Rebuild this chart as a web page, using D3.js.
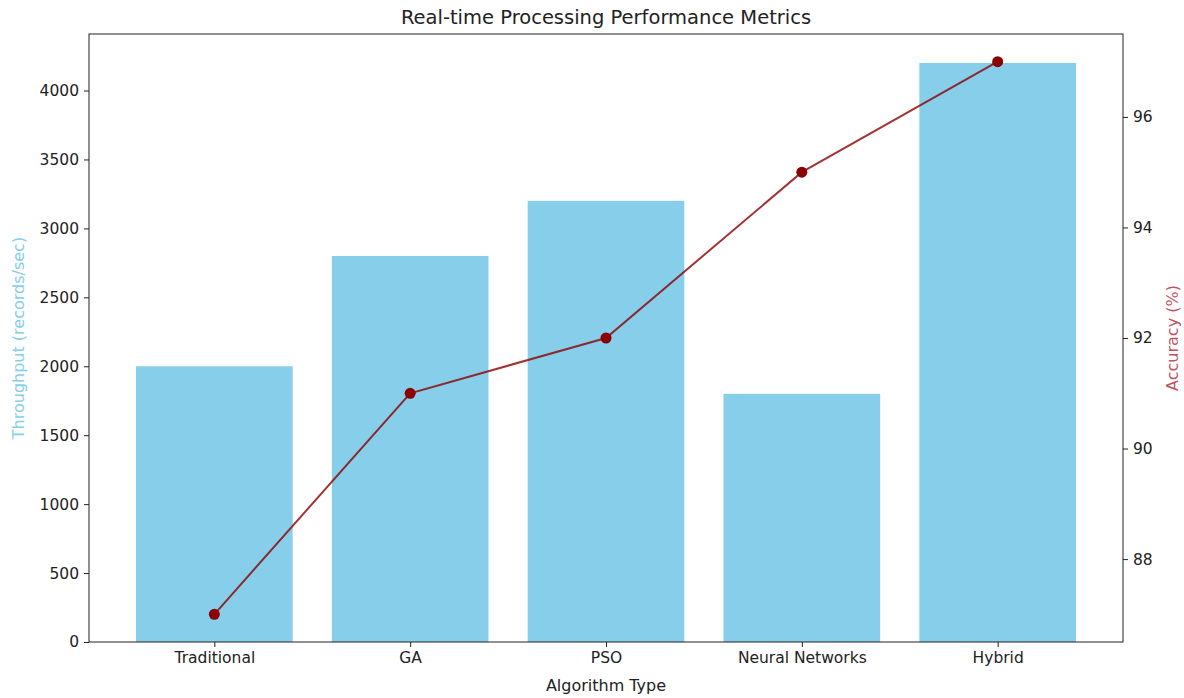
<!DOCTYPE html>
<html><head><meta charset="utf-8">
<script src="https://cdn.jsdelivr.net/npm/d3@7"></script>
<style>body{margin:0;background:#fff}text{font-family:"DejaVu Sans",sans-serif}</style>
</head><body><svg id="c" width="1184" height="698"></svg>
<script>
const categories = ["Traditional","GA","PSO","Neural Networks","Hybrid"];
const throughput = [2000,2800,3200,1800,4200];
const accuracy = [87,91,92,95,97];
const leftTicks = [0,500,1000,1500,2000,2500,3000,3500,4000];
const rightTicks = [88,90,92,94,96];

const svg = d3.select("#c");
const L=89, R=1123, T=34, B=642;
const x = d3.scaleLinear().domain([-0.64,4.64]).range([L,R]);
const yL = d3.scaleLinear().domain([0,4410]).range([B,T]);
const yR = d3.scaleLinear().domain([86.5,97.5]).range([B,T]);

svg.selectAll("rect.bar").data(throughput).join("rect").attr("class","bar")
  .attr("x",(d,i)=>x(i-0.4)).attr("width",x(0.8)-x(0))
  .attr("y",d=>yL(d)).attr("height",d=>B-yL(d)).attr("fill","#87CEEB");

const line = d3.line().x((d,i)=>x(i)).y(d=>yR(d));
svg.append("path").datum(accuracy).attr("d",line).attr("fill","none")
  .attr("stroke","#8B0000").attr("stroke-opacity",0.8).attr("stroke-width",2);
svg.selectAll("circle").data(accuracy).join("circle")
  .attr("cx",(d,i)=>x(i)).attr("cy",d=>yR(d)).attr("r",5.5).attr("fill","#8B0000");

const fs = 15.5;
const ax = svg.append("g").attr("transform",`translate(0,${B})`)
  .call(d3.axisBottom(x).tickValues(d3.range(categories.length)).tickFormat(i=>categories[i]).tickSizeOuter(0).tickSize(5).tickPadding(5));
const al = svg.append("g").attr("transform",`translate(${L},0)`)
  .call(d3.axisLeft(yL).tickValues(leftTicks).tickFormat(d3.format("d")).tickSizeOuter(0).tickSize(5).tickPadding(5));
const ar = svg.append("g").attr("transform",`translate(${R},0)`)
  .call(d3.axisRight(yR).tickValues(rightTicks).tickFormat(d3.format("d")).tickSizeOuter(0).tickSize(5).tickPadding(5));
[ax,al,ar].forEach(g=>{
  g.select(".domain").remove();
  g.selectAll("text").attr("font-size",fs).attr("fill","#222").attr("font-family","DejaVu Sans");
  g.selectAll("line").attr("stroke","#222");
});
svg.append("rect").attr("x",L).attr("y",T).attr("width",R-L).attr("height",B-T)
  .attr("fill","none").attr("stroke","#222").attr("stroke-width",1);

svg.append("text").attr("x",(L+R)/2).attr("y",24).attr("text-anchor","middle")
  .attr("font-size",19.5).attr("fill","#222").text("Real-time Processing Performance Metrics");
svg.append("text").attr("x",(L+R)/2).attr("y",691).attr("text-anchor","middle")
  .attr("font-size",16).attr("fill","#222").text("Algorithm Type");
svg.append("text").attr("transform",`translate(24,${(T+B)/2}) rotate(-90)`).attr("text-anchor","middle")
  .attr("font-size",16).attr("fill","#87CEEB").text("Throughput (records/sec)");
svg.append("text").attr("transform",`translate(1178,${(T+B)/2}) rotate(-90)`).attr("text-anchor","middle")
  .attr("font-size",16).attr("fill","#B22234").attr("fill-opacity",0.8).text("Accuracy (%)");
</script></body></html>
